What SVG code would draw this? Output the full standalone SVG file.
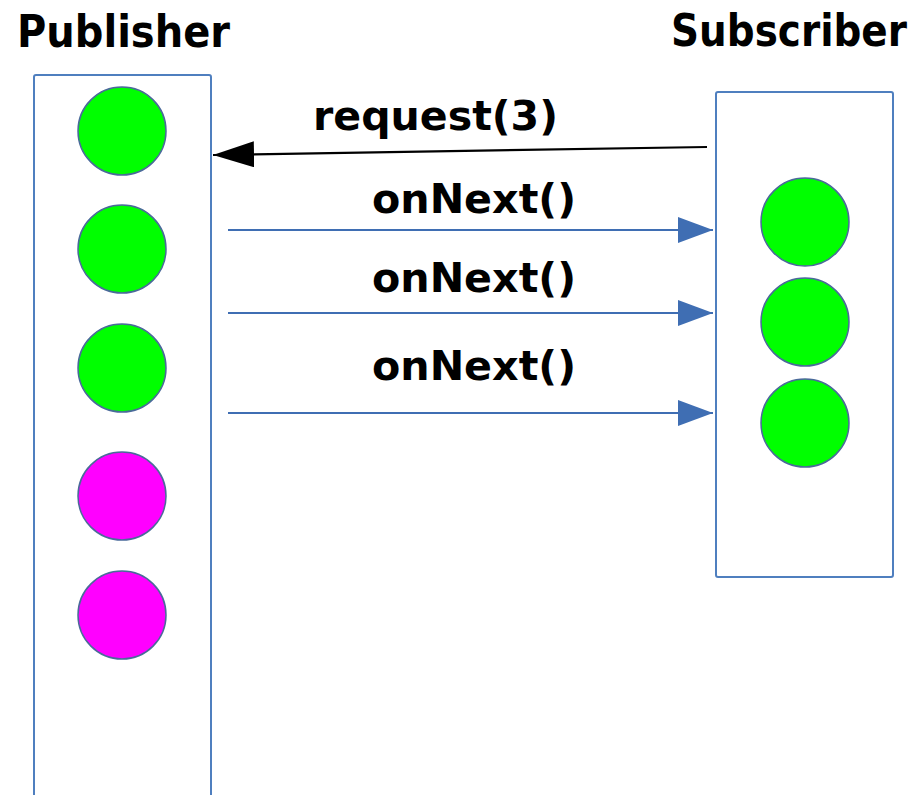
<svg xmlns="http://www.w3.org/2000/svg" width="924" height="795" viewBox="0 0 924 795">
  <style>
    .box { fill: #ffffff; stroke: #4f7fbf; stroke-width: 2; }
    .item { stroke: #4a6a9a; stroke-width: 1.5; }
    .ready { fill: #00ff00; }
    .pending { fill: #ff00ff; }
    .title { font-family: "DejaVu Sans", Verdana, sans-serif; font-weight: bold; font-size: 44px; fill: #000; }
    .msg { font-family: "DejaVu Sans", Verdana, sans-serif; font-weight: bold; font-size: 40px; fill: #000; }
    .signal { stroke: #3f6eb3; stroke-width: 2; fill: none; }
    .demand { stroke: #000; stroke-width: 2.2; fill: none; }
  </style>
  <defs>
    <marker id="blueHead" markerUnits="userSpaceOnUse" markerWidth="36" markerHeight="26" refX="35" refY="13" orient="auto">
      <path d="M0,0 L35,13 L0,26 Z" fill="#3f6eb3"/>
    </marker>
    <marker id="blackHead" markerUnits="userSpaceOnUse" markerWidth="42" markerHeight="26" refX="41" refY="13" orient="auto">
      <path d="M0,0 L41,13 L0,26 Z" fill="#000"/>
    </marker>
  </defs>

  <rect width="924" height="795" fill="#ffffff"/>

  <g id="publisher">
    <text class="title" x="17" y="47" textLength="213" lengthAdjust="spacingAndGlyphs">Publisher</text>
    <rect class="box" x="34" y="75" width="177" height="730" rx="2"/>
    <circle class="item ready" cx="122" cy="131" r="44"/>
    <circle class="item ready" cx="122" cy="249" r="44"/>
    <circle class="item ready" cx="122" cy="368" r="44"/>
    <circle class="item pending" cx="122" cy="496" r="44"/>
    <circle class="item pending" cx="122" cy="615" r="44"/>
  </g>

  <g id="subscriber">
    <text class="title" x="671" y="46" textLength="236" lengthAdjust="spacingAndGlyphs">Subscriber</text>
    <rect class="box" x="716" y="92" width="177" height="485" rx="2"/>
    <circle class="item ready" cx="805" cy="222" r="44"/>
    <circle class="item ready" cx="805" cy="322" r="44"/>
    <circle class="item ready" cx="805" cy="423" r="44"/>
  </g>

  <g id="connectors">
    <line class="demand" x1="707" y1="147" x2="213" y2="155" marker-end="url(#blackHead)"/>
    <line class="signal" x1="228" y1="230" x2="713" y2="230" marker-end="url(#blueHead)"/>
    <line class="signal" x1="228" y1="313" x2="713" y2="313" marker-end="url(#blueHead)"/>
    <line class="signal" x1="228" y1="413" x2="713" y2="413" marker-end="url(#blueHead)"/>
  </g>

  <g id="labels">
    <text class="msg" x="313" y="130" textLength="245" lengthAdjust="spacingAndGlyphs">request(3)</text>
    <text class="msg" x="372" y="213" textLength="204" lengthAdjust="spacingAndGlyphs">onNext()</text>
    <text class="msg" x="372" y="292" textLength="204" lengthAdjust="spacingAndGlyphs">onNext()</text>
    <text class="msg" x="372" y="380" textLength="204" lengthAdjust="spacingAndGlyphs">onNext()</text>
  </g>
</svg>
